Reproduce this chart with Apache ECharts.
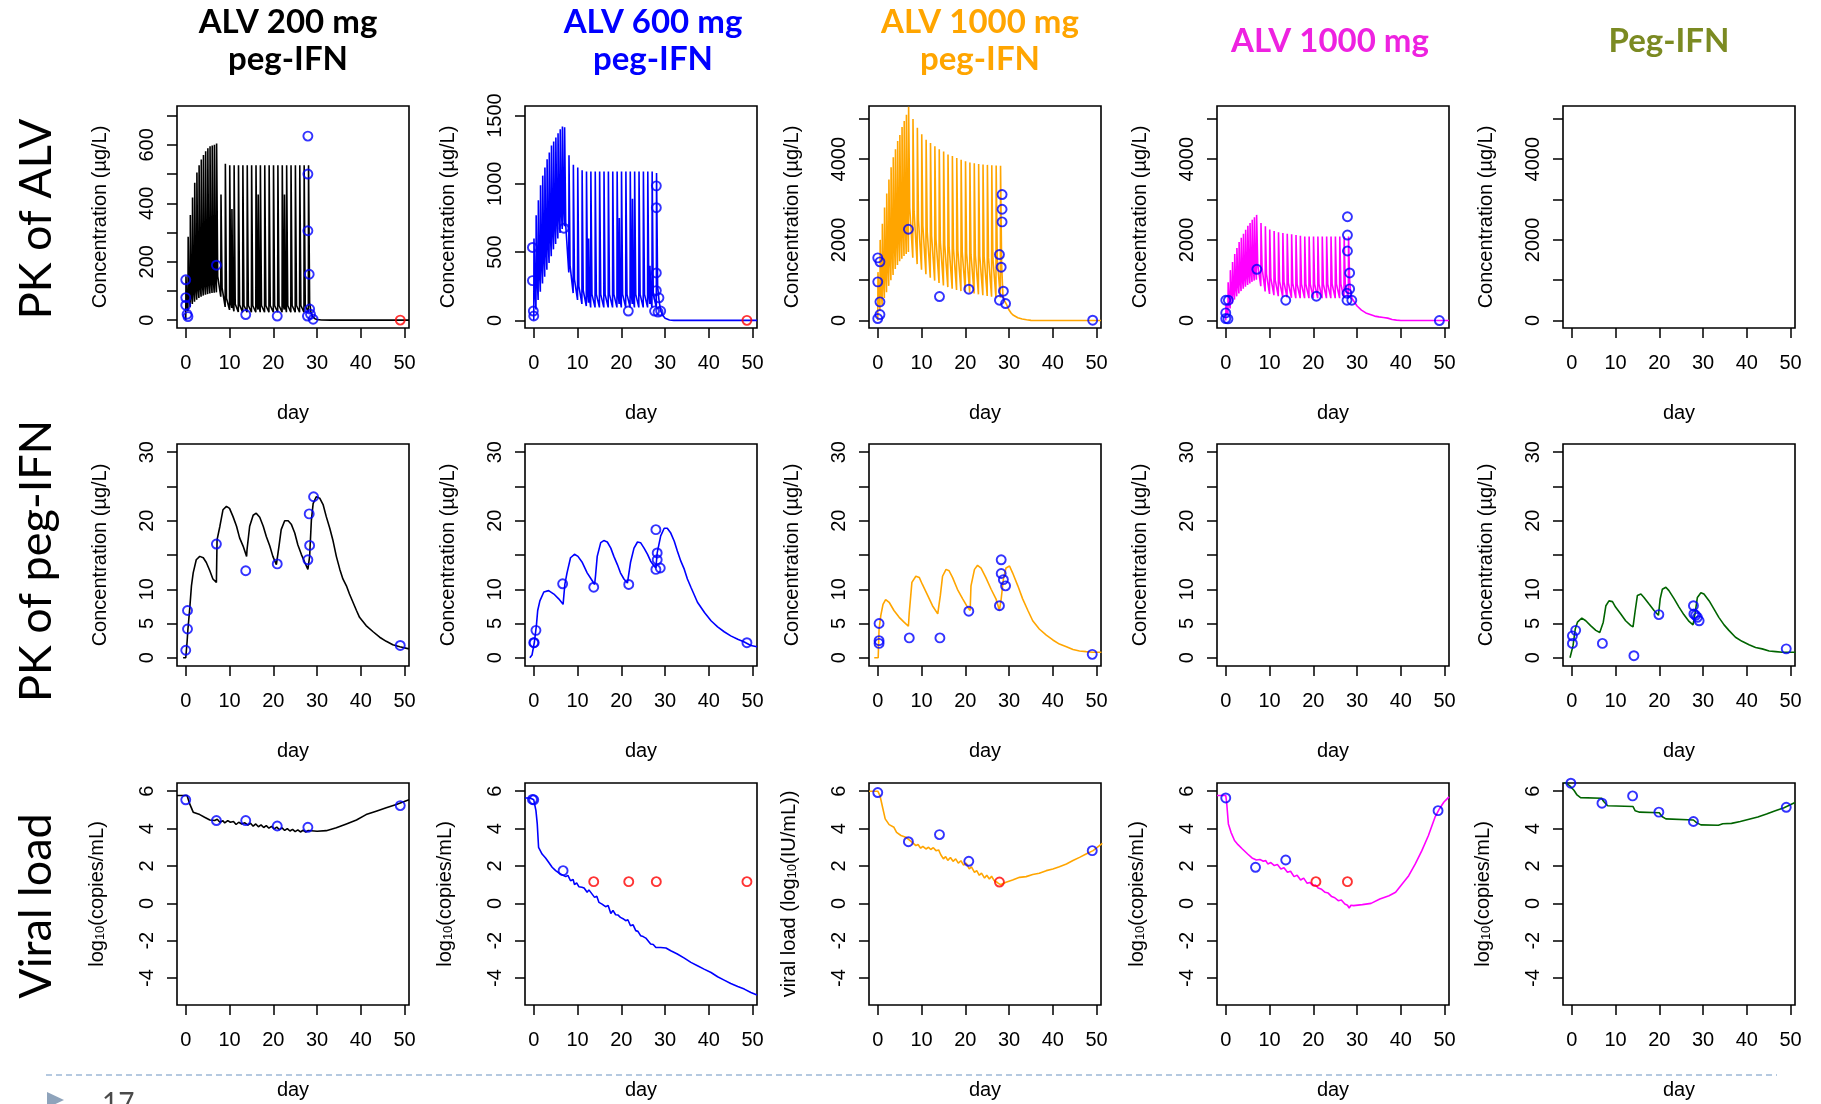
<!DOCTYPE html>
<html>
<head>
<meta charset="utf-8">
<script src="https://cdn.jsdelivr.net/npm/echarts@6/dist/echarts.min.js"></script>
<style>
html, body { margin: 0; padding: 0; background: #ffffff; }
#chart { width: 1821px; height: 1104px; }
</style>
</head>
<body>
<div id="chart"></div>
<script>
// ---------- labels ----------
const panelTitles = ['ALV 200 mg\npeg-IFN', 'ALV 600 mg\npeg-IFN', 'ALV 1000 mg\npeg-IFN', 'ALV 1000 mg', 'Peg-IFN'];
const rowLabels = ['PK of ALV', 'PK of peg-IFN', 'Viral load'];

// ---------- axis ticks ----------
const xTicks = [0, 10, 20, 30, 40, 50];
const alv200Ticks = [0, 100, 200, 300, 400, 500, 600, 700];
const alv200Labels = [0, 200, 400, 600];
const alv600Ticks = [0, 500, 1000, 1500];
const alv600Labels = [0, 500, 1000, 1500];
const alv1000Ticks = [0, 1000, 2000, 3000, 4000, 5000];
const alv1000Labels = [0, 2000, 4000];
const ifnTicks = [0, 5, 10, 15, 20, 25, 30];
const ifnLabels = [0, 5, 10, 20, 30];
const vlTicks = [-4, -2, 0, 2, 4, 6];
const vlLabels = [-4, -2, 0, 2, 4, 6];

// ---------- PK of ALV: model curves [day, µg/L] ----------
const pkAlv200Line = [
  [0,0],[0.05,150],[0.25,60],[0.5,30],[0.55,285],[0.75,85],[1,45],[1.05,360],[1.25,100],[1.5,55],
  [1.55,420],[1.75,110],[2,63],[2.05,470],[2.25,120],[2.5,70],[2.55,505],[2.75,125],[3,76],
  [3.05,530],[3.25,130],[3.5,80],[3.55,550],[3.75,135],[4,84],[4.05,565],[4.25,140],[4.5,87],
  [4.55,578],[4.75,142],[5,89],[5.05,588],[5.25,145],[5.5,91],[5.55,595],[5.75,147],[6,93],
  [6.05,598],[6.25,148],[6.5,94],[6.55,600],[6.75,150],[7,95],[7.05,605],[7.3,150],[8,80],
  [8.05,430],[8.3,110],[9,45],[9.05,535],[9.3,75],[10,35],[10.05,530],[10.3,60],[10.5,42],
  [10.55,380],[10.75,50],[11,30],[11.05,530],[11.3,55],[12,28],[12.05,530],[12.3,52],[13,27],
  [13.05,530],[13.3,50],[14,27],[14.05,530],[14.3,50],[15,27],[15.05,530],[15.3,50],[16,27],
  [16.05,530],[16.3,50],[16.5,36],[16.55,430],[16.75,48],[17,27],[17.05,530],[17.3,50],[18,27],
  [18.05,530],[18.3,50],[19,27],[19.05,530],[19.3,50],[20,27],[20.05,530],[20.3,50],[21,27],
  [21.05,530],[21.3,50],[22,27],[22.05,530],[22.3,50],[22.5,36],[22.55,430],[22.75,48],[23,27],
  [23.05,530],[23.3,50],[24,27],[24.05,530],[24.3,50],[25,27],[25.05,530],[25.3,50],[26,27],
  [26.05,530],[26.3,50],[27,27],[27.05,530],[27.3,50],[28,27],[28.05,530],[28.3,60],[28.6,28],
  [29,12],[29.5,5],[30,2],[31,0.5],[33,0],[51,0]
];
const pkAlv200Obs = [
  [0,138],[0,77],[0,51],[0.3,20],[0.5,12],[7,188],[13.7,19],[20.9,14],[27.9,630],[27.9,500],
  [27.9,306],[28.2,157],[28.3,38],[27.8,14],[28.5,20],[29.1,3]
];
const pkAlv200Blq = [[49,0]];

const pkAlv600Line = [
  [0,0],[0.05,600],[0.25,250],[0.5,80],[0.55,770],[0.75,330],[1,150],[1.05,880],[1.25,400],[1.5,210],
  [1.55,990],[1.75,460],[2,270],[2.05,1060],[2.25,520],[2.5,320],[2.55,1120],[2.75,570],[3,370],
  [3.05,1180],[3.25,620],[3.5,420],[3.55,1230],[3.75,670],[4,470],[4.05,1280],[4.25,710],[4.5,520],
  [4.55,1310],[4.75,750],[5,560],[5.05,1340],[5.25,790],[5.5,600],[5.55,1370],[5.75,820],[6,640],
  [6.05,1400],[6.25,850],[6.5,670],[6.55,1420],[6.75,870],[7,690],[7.05,1415],[7.3,700],[8,350],
  [8.05,1210],[8.3,400],[9,200],[9.05,1140],[9.3,300],[10,150],[10.05,1120],[10.3,250],[11,120],
  [11.05,1100],[11.3,220],[12,105],[12.05,1090],[12.3,200],[12.5,130],[12.55,600],[12.75,160],[13,95],
  [13.05,1090],[13.3,190],[14,95],[14.05,1090],[14.3,190],[15,95],[15.05,1090],[15.3,190],[16,95],
  [16.05,1090],[16.3,190],[17,95],[17.05,1090],[17.3,190],[18,95],[18.05,1090],[18.3,190],[19,95],
  [19.05,1090],[19.3,190],[19.5,120],[19.55,750],[19.75,150],[20,95],[20.05,1090],[20.3,190],[21,95],
  [21.05,1090],[21.3,190],[22,95],[22.05,1090],[22.3,190],[22.5,120],[22.55,890],[22.75,150],[23,95],
  [23.05,1090],[23.3,190],[24,95],[24.05,1090],[24.3,190],[25,95],[25.05,1090],[25.3,190],[26,95],
  [26.05,1090],[26.3,190],[26.5,120],[26.55,400],[26.75,150],[27,95],[27.05,1090],[27.3,190],[28,95],
  [28.05,1080],[28.3,250],[28.6,150],[29,70],[29.5,35],[30,15],[31,3],[32,0],[51,0]
];
const pkAlv600Obs = [
  [-0.3,534],[-0.3,291],[-0.1,68],[0,32],[6.9,675],[21.6,68],[28,985],[28,825],[28,347],[28,218],
  [28.6,165],[27.6,68],[29,68],[28.4,60]
];
const pkAlv600Blq = [[48.7,0]];

const pkAlv1000pLine = [
  [0,0],[0.05,1200],[0.25,600],[0.5,250],[0.55,2000],[0.75,900],[1,380],[1.05,2400],[1.25,1100],[1.5,560],
  [1.55,2800],[1.75,1350],[2,700],[2.05,3150],[2.25,1550],[2.5,860],[2.55,3500],[2.75,1750],[3,1000],
  [3.05,3800],[3.25,1950],[3.5,1130],[3.55,4050],[3.75,2100],[4,1280],[4.05,4250],[4.25,2250],[4.5,1380],
  [4.55,4450],[4.75,2350],[5,1470],[5.05,4600],[5.25,2450],[5.5,1530],[5.55,4800],[5.75,2550],[6,1600],
  [6.05,4950],[6.25,2650],[6.5,1650],[6.55,5100],[6.75,2700],[7,1700],[7.05,5300],[7.3,2800],[8,1560],
  [8.05,5000],[8.3,2700],[9,1400],[9.05,4780],[9.3,2500],[10,1260],[10.05,4620],[10.3,2350],[11,1150],
  [11.05,4480],[11.3,2200],[12,1060],[12.05,4400],[12.3,2100],[13,990],[13.05,4320],[13.3,2020],[14,930],
  [14.05,4250],[14.3,1950],[15,870],[15.05,4190],[15.3,1880],[16,830],[16.05,4120],[16.3,1820],[17,790],
  [17.05,4080],[17.3,1780],[18,760],[18.05,4030],[18.3,1740],[19,730],[19.05,3990],[19.3,1700],[20,710],
  [20.05,3950],[20.3,1670],[21,690],[21.05,3920],[21.3,1640],[22,670],[22.05,3900],[22.3,1620],[23,650],
  [23.05,3880],[23.3,1600],[24,630],[24.05,3870],[24.3,1580],[25,610],[25.05,3860],[25.3,1560],[26,590],
  [26.05,3850],[26.3,1540],[27,575],[27.05,3845],[27.3,1530],[28,565],[28.05,3840],[28.3,1400],[28.6,600],
  [29,480],[29.5,380],[30,260],[30.5,180],[31,130],[32,70],[33,40],[34,20],[35,5],[36,0],[51,0]
];
const pkAlv1000pObs = [
  [0,1554],[0.5,1455],[0,959],[0.5,463],[0.5,149],[0,50],[7,2264],[14.1,595],[20.8,777],[28.4,3124],
  [28.4,2760],[28.4,2446],[27.8,1636],[28.2,1322],[28.7,727],[27.8,504],[29.2,421],[49.1,8]
];

const pkAlv1000Line = [
  [0,0],[0.05,400],[0.25,250],[0.5,150],[0.55,950],[0.75,500],[1,300],[1.05,1250],[1.25,680],[1.5,420],
  [1.55,1450],[1.75,800],[2,520],[2.05,1650],[2.25,900],[2.5,600],[2.55,1800],[2.75,980],[3,670],
  [3.05,1950],[3.25,1050],[3.5,730],[3.55,2050],[3.75,1110],[4,790],[4.05,2150],[4.25,1170],[4.5,840],
  [4.55,2250],[4.75,1220],[5,880],[5.05,2350],[5.25,1260],[5.5,920],[5.55,2420],[5.75,1300],[6,960],
  [6.05,2500],[6.25,1340],[6.5,990],[6.55,2560],[6.75,1370],[7,1010],[7.05,2620],[7.3,1400],[8,850],
  [8.05,2420],[8.3,1300],[9,720],[9.05,2340],[9.3,1150],[10,660],[10.05,2260],[10.3,1050],[11,630],
  [11.05,2220],[11.3,1000],[12,605],[12.05,2190],[12.3,970],[13,590],[13.05,2170],[13.3,950],[14,575],
  [14.05,2150],[14.3,930],[15,565],[15.05,2140],[15.3,920],[16,555],[16.05,2120],[16.3,900],[17,555],
  [17.05,2100],[17.3,900],[18,555],[18.05,2085],[18.3,900],[19,555],[19.05,2085],[19.3,900],[20,555],
  [20.05,2085],[20.3,900],[21,555],[21.05,2085],[21.3,900],[22,555],[22.05,2085],[22.3,900],[23,555],
  [23.05,2085],[23.3,900],[24,555],[24.05,2085],[24.3,900],[25,555],[25.05,2085],[25.3,900],[26,555],
  [26.05,2085],[26.3,900],[27,555],[27.05,2085],[27.3,900],[28,555],[28.05,2085],[28.3,1000],[28.6,620],
  [29,520],[29.5,440],[30,360],[31,260],[32,190],[33,150],[34,110],[35,90],[36,75],[37,60],[38,25],
  [39,10],[40,2],[41,0],[51,0]
];
const pkAlv1000Obs = [
  [0,503],[0.6,503],[0,190],[0,50],[0.5,41],[7.1,1271],[13.7,503],[20.7,602],[27.8,2574],[27.8,2120],
  [27.8,1724],[28.3,1180],[28.3,784],[27.7,677],[27.7,503],[28.8,503],[48.8,0]
];

// ---------- PK of peg-IFN: model curves [day, µg/L] ----------
const ifn200Line = [
  [-0.6,0],[0,0],[0.3,2.3],[0.5,4.2],[0.9,7.1],[1.3,10.5],[1.7,12.4],[2.4,14.3],[3.2,14.8],[4,14.6],
  [4.7,13.9],[5.5,12.7],[6.2,11.5],[7,11],[7.15,17.2],[7.8,19.2],[8.5,21.6],[9.3,22.1],[10,21.8],
  [10.8,20.6],[11.6,19.2],[12.3,17.5],[13.1,16.3],[13.9,14.8],[14,15.8],[14.6,19.2],[15.4,20.8],
  [16.1,21.1],[16.9,20.5],[17.7,19.2],[18.4,17.7],[19.2,16.3],[19.9,14.8],[20.7,13.6],[21.1,13.6],
  [21.3,16.3],[21.8,18.7],[22.6,20],[23.4,20],[24.1,19.5],[24.9,18.2],[25.6,16.5],[26.4,15.1],
  [27.2,13.9],[27.9,12.9],[28.3,14.8],[28.7,20.1],[29.1,22.5],[29.8,23.5],[30.6,23.3],[31.4,22.3],
  [32.1,20.6],[32.9,18.9],[33.6,17.2],[34.4,14.8],[35.2,12.9],[35.9,11.5],[36.7,10.5],[37.4,9.3],
  [38.2,8.1],[39,6.9],[39.7,5.9],[41.2,4.7],[42.8,3.8],[44.3,3],[45.8,2.4],[47.3,1.9],[48.9,1.6],[51,1.3]
];
const ifn200Obs = [
  [0,1.1],[0.4,4.2],[0.4,6.9],[7,16.6],[13.7,12.7],[20.9,13.7],[27.9,14.3],[28.3,16.4],[28.2,21],
  [29.2,23.5],[49,1.8]
];

const ifn600Line = [
  [-0.9,0],[-0.4,0.4],[0.15,2.3],[0.6,4.7],[0.9,6.9],[1.4,8.3],[2.3,9.6],[3.4,9.8],[4.6,9.3],[5.7,8.6],
  [6.7,7.8],[7.1,10.7],[7.6,12.4],[8.4,14.6],[9.3,15.1],[10.1,14.8],[11.1,13.9],[12.2,12.4],[13.4,11.2],
  [13.9,10.7],[14.1,11.9],[14.5,14.8],[15.3,16.8],[16,17.1],[16.8,16.9],[17.6,16],[18.3,14.8],[19.1,13.6],
  [19.8,12.4],[20.6,11.5],[21.4,10.9],[21.8,10.9],[22.1,13.9],[22.9,16],[23.7,16.9],[24.4,16.8],[25.2,16],
  [26,15.1],[26.7,14.1],[27.5,13.4],[27.9,13.1],[28.2,15.3],[29,17.8],[29.8,18.9],[30.5,18.9],[31.3,18.2],
  [32.1,17],[32.8,15.6],[33.6,14.1],[34.4,12.9],[35.1,11.5],[35.9,10.3],[37.4,8.1],[39,6.6],[40.5,5.4],
  [42,4.5],[43.5,3.8],[45,3.2],[46.6,2.7],[48.1,2.3],[49.6,1.8],[51,1.6]
];
const ifn600Obs = [
  [0,2.2],[0.1,2.2],[0.5,4],[6.6,10.8],[13.7,10.3],[21.7,10.7],[27.9,18.7],[28.2,15.3],[28.2,14.3],
  [27.9,12.9],[28.9,13.1],[48.7,2.2]
];

const ifn1000pLine = [
  [-0.8,0],[0.1,0],[0.3,4.2],[0.7,6.2],[1.2,7.8],[1.8,8.5],[2.6,8.1],[3.7,6.9],[4.9,5.9],[6,5.2],
  [7,4.6],[7.2,6.6],[7.8,11],[8.7,11.9],[9.5,11.7],[10.2,10.7],[11.4,9.1],[12.5,7.6],[13.7,6.4],[14,6.2],
  [14.3,9.1],[14.8,11.9],[15.6,12.9],[16.3,12.7],[17.1,11.7],[18.2,10],[19.4,8.6],[20.5,7.4],[21.1,6.9],
  [21.3,10.5],[22.1,12.9],[22.8,13.5],[23.6,13.1],[24.7,11.7],[25.9,10],[27,8.6],[27.8,6.9],[28.2,8.6],
  [28.7,11.5],[29.3,13.1],[30.1,13.4],[30.8,12.4],[32,10.5],[33.1,8.6],[34.3,6.9],[35.4,5.4],[36.9,4.2],
  [38.5,3.3],[40,2.6],[41.5,2],[43.1,1.6],[44.6,1.2],[46.1,1],[47.6,0.9],[49.2,0.8],[51.1,0.8]
];
const ifn1000pObs = [
  [0.3,5],[0.3,2.5],[0.3,2.1],[7.2,2.9],[14.2,2.9],[20.8,6.8],[27.8,7.6],[28.2,14.3],[28.2,12.3],
  [28.7,11.4],[29.2,10.5],[49,0.5]
];

const ifnOnlyLine = [
  [-0.4,0],[0,0.1],[0.3,1.8],[0.8,4.2],[1.3,5.2],[2.3,5.8],[3.2,5.4],[4.3,4.7],[5.5,4],[6.4,3.7],
  [6.8,3.7],[7.2,5.2],[7.8,7.6],[8.5,8.3],[9.3,8.2],[10,7.4],[11.2,6.4],[12.3,5.4],[13.5,4.7],[14,4.5],
  [14.5,6.9],[15,9.1],[15.8,9.3],[16.5,8.8],[17.7,7.8],[18.8,6.9],[19.8,6.2],[20.2,8.6],[20.7,10],
  [21.5,10.3],[22.2,9.8],[23.4,8.6],[24.5,7.4],[25.6,6.3],[26.8,5.3],[27.7,4.8],[28.2,6.6],[28.7,8.8],
  [29.5,9.5],[30.2,9.3],[31.4,8.3],[32.5,7.1],[33.6,5.9],[34.8,4.8],[35.9,4],[37.4,3],[38.9,2.4],
  [40.5,1.9],[42,1.5],[43.5,1.3],[45.1,1],[46.6,0.9],[48.1,0.8],[51.1,0.8]
];
const ifnOnlyObs = [
  [0.15,3.2],[0.15,2.1],[0.9,4],[7,2.1],[14.2,0.3],[19.9,6.3],[27.8,7.6],[27.9,6.4],[28.3,6.2],
  [28.7,5.9],[29.1,5.4],[49,1.3]
];

// ---------- Viral load: model curves [day, log10] ----------
const vl200Line = [
  [-2,5.77],[0.3,5.77],[0.9,5.32],[1.7,4.88],[2.1,4.79],[3.2,4.75],[3.6,4.8],[4.3,4.61],[5.5,4.46],
  [6.6,4.43],[7.2,4.5],[7.8,4.34],[8.5,4.42],[8.9,4.3],[9.6,4.43],[10.2,4.34],[10.9,4.38],[11.5,4.22],
  [12.1,4.34],[12.8,4.25],[13.5,4.31],[14.2,4.18],[14.8,4.29],[15.4,4.13],[16,4.25],[16.6,4.1],
  [17.2,4.2],[17.8,4.06],[18.4,4.16],[19,4.02],[19.6,4.12],[20.2,3.98],[20.8,4.08],[21.4,3.94],
  [22,4.04],[22.6,3.9],[23.2,4],[23.8,3.87],[24.4,3.96],[25,3.84],[25.6,3.93],[26.2,3.82],[26.8,3.91],
  [27.4,3.82],[28,3.9],[28.4,3.84],[30,3.86],[32.1,3.89],[34.4,4.04],[36.7,4.25],[39,4.46],[41.2,4.75],
  [43.5,4.93],[45.8,5.11],[48.1,5.29],[51,5.54]
];
const vl200Obs = [[0,5.54],[7,4.43],[13.7,4.43],[20.9,4.14],[27.9,4.07],[49,5.23]];

const vl600Line = [
  [-2,5.64],[-0.8,5.64],[0,5.54],[0.5,4.96],[0.8,4.25],[1.1,3],[1.9,2.64],[2.7,2.43],[3.4,2.2],[4.2,1.93],
  [5,1.75],[6.1,1.57],[7.3,1.43],[7.8,1.5],[8.4,1.21],[9,1.28],[9.3,1],[9.8,1.1],[10.3,0.89],[11,0.86],
  [11.5,0.82],[12.2,0.59],[12.6,0.72],[13,0.64],[13.9,0.32],[14.4,0.38],[14.9,0.05],[15.3,0.12],
  [15.6,-0.04],[16,0.02],[16.4,-0.18],[17,-0.12],[17.6,-0.54],[18.1,-0.38],[18.7,-0.61],[19.2,-0.62],
  [19.8,-0.75],[20.4,-0.82],[21,-0.93],[21.5,-0.88],[22.1,-1.2],[22.7,-1.15],[23.3,-1.46],[23.8,-1.5],
  [24.4,-1.73],[25,-1.78],[25.6,-1.86],[26,-1.82],[26.7,-2.18],[27.3,-2.2],[27.9,-2.36],[28.2,-2.42],
  [29,-2.36],[30.2,-2.39],[31.3,-2.54],[32.8,-2.71],[34.4,-2.93],[35.9,-3.16],[37.4,-3.34],[38.9,-3.52],
  [40.5,-3.7],[42,-3.93],[43.5,-4.11],[45,-4.29],[46.6,-4.45],[48.1,-4.59],[49.6,-4.77],[51,-4.9]
];
const vl600Obs = [[-0.3,5.56],[0,5.54],[6.7,1.75]];
const vl600Blq = [[13.7,1.16],[21.7,1.16],[28,1.16],[48.7,1.16]];

const vl1000pLine = [
  [-2,6],[0,6],[0.5,5.77],[1.1,5.14],[1.7,4.52],[2.6,4.21],[3.7,4.07],[4.3,3.8],[5.3,3.63],[6.4,3.54],
  [7.6,3.32],[8.2,3.2],[8.7,3.09],[9.2,3.15],[9.8,2.95],[10.3,3.05],[11,2.91],[11.6,3],[12.1,2.88],
  [12.7,2.98],[13.3,2.82],[13.9,2.86],[14.4,2.6],[15,2.38],[15.5,2.5],[16,2.3],[16.6,2.45],[17.2,2.25],
  [17.8,2.38],[18.4,2.15],[19,2.28],[19.6,2.05],[20.2,2.15],[20.9,1.84],[21.4,1.95],[22.1,1.66],
  [22.6,1.75],[23.2,1.5],[23.7,1.62],[24.4,1.35],[24.9,1.5],[25.5,1.3],[26,1.45],[26.6,1.22],[27,1.3],
  [27.4,1.1],[28,1],[28.2,0.98],[29.3,1.13],[30.8,1.25],[32.4,1.39],[33.9,1.43],[35.4,1.54],[36.9,1.61],
  [38.5,1.75],[40,1.84],[41.5,1.96],[43.1,2.11],[44.6,2.29],[46.1,2.46],[47.6,2.64],[49.2,2.82],[51.3,3.21]
];
const vl1000pObs = [[0,5.93],[7,3.3],[14.1,3.68],[20.8,2.25],[49,2.82]];
const vl1000pBlq = [[27.8,1.14]];

const vl1000Line = [
  [-2,5.77],[0,5.77],[0.2,5.41],[0.6,4.25],[1.2,3.8],[2,3.36],[2.8,3.14],[3.8,2.91],[5,2.64],[6,2.43],
  [7,2.32],[7.8,2.35],[8.6,2.25],[9.1,2.3],[9.6,2.11],[10.3,2.18],[11.1,2.02],[11.8,2.08],[12.6,1.84],
  [13.3,1.9],[14.1,1.66],[14.8,1.72],[15.6,1.43],[16.3,1.5],[17.1,1.25],[17.8,1.35],[18.6,1.07],
  [19.2,1.12],[19.9,0.95],[20.5,0.98],[21.1,0.82],[21.9,0.75],[22.7,0.59],[23.4,0.55],[24.2,0.36],
  [24.9,0.3],[25.7,0.14],[26.4,0.18],[27.2,-0.04],[27.8,-0.1],[28.2,-0.25],[28.6,-0.1],[29.2,-0.12],
  [31.2,-0.07],[33.2,0],[35.2,0.23],[37.3,0.41],[38.8,0.59],[40.3,1.04],[41.8,1.48],[43.3,2.11],
  [44.8,2.82],[46.3,3.63],[47.8,4.61],[48.8,5.05],[49.8,5.41],[51,5.7]
];
const vl1000Obs = [[0,5.64],[6.8,1.93],[13.7,2.32],[48.5,4.96]];
const vl1000Blq = [[20.6,1.16],[27.8,1.16]];

const vlIfnLine = [
  [-2,6.55],[-0.5,6.3],[0.5,6.05],[1.2,5.8],[2,5.66],[6.8,5.62],[7.3,5.45],[8.2,5.22],[14,5.18],
  [14.5,4.95],[15.5,4.88],[20,4.85],[20.6,4.65],[21.5,4.52],[27.8,4.46],[28.5,4.32],[29.5,4.2],
  [33.5,4.18],[34.5,4.26],[36.5,4.28],[38.5,4.38],[40.5,4.5],[42.5,4.62],[44.5,4.78],[46.5,4.95],
  [48.5,5.12],[51,5.4]
];
const vlIfnObs = [[-0.2,6.43],[6.9,5.36],[13.9,5.75],[19.9,4.88],[27.8,4.38],[49,5.14]];

// ---------- styling ----------
const armColors = ['#000000', '#0000ff', '#ffa500', '#ff00ff', '#006400'];
const titleColors = ['#000000', '#0000ff', '#ffa500', '#ee22e0', '#7b8a22'];
const obsColor = '#0000ff';
const blqColor = '#ff0000';
const axisFont = 'Liberation Sans';

const gridLeft = [177, 525, 869, 1217, 1563];
const gridTop = [106, 444, 783];
const gridW = 232, gridH = 222;
const xRange = [-2, 51];

const concName = 'Concentration (µg/L)';
const vlName = '{a|log}{s|10}{a|(copies/mL)}';
const vlNameIU = '{a|viral load (log}{s|10}{a|(IU/mL))}';
const yNameGap = [67, 67, 70];

// one entry per panel: row, column, y range, ticks and what is plotted
const panels = [
  { r: 0, c: 0, y: [-27, 733], ticks: alv200Ticks, labels: alv200Labels, name: concName, line: pkAlv200Line, obs: pkAlv200Obs, blq: pkAlv200Blq },
  { r: 0, c: 1, y: [-56, 1570], ticks: alv600Ticks, labels: alv600Labels, name: concName, line: pkAlv600Line, obs: pkAlv600Obs, blq: pkAlv600Blq },
  { r: 0, c: 2, y: [-185, 5320], ticks: alv1000Ticks, labels: alv1000Labels, name: concName, line: pkAlv1000pLine, obs: pkAlv1000pObs },
  { r: 0, c: 3, y: [-185, 5320], ticks: alv1000Ticks, labels: alv1000Labels, name: concName, line: pkAlv1000Line, obs: pkAlv1000Obs },
  { r: 0, c: 4, y: [-185, 5320], ticks: alv1000Ticks, labels: alv1000Labels, name: concName },
  { r: 1, c: 0, y: [-1.2, 31.2], ticks: ifnTicks, labels: ifnLabels, name: concName, line: ifn200Line, obs: ifn200Obs },
  { r: 1, c: 1, y: [-1.2, 31.2], ticks: ifnTicks, labels: ifnLabels, name: concName, line: ifn600Line, obs: ifn600Obs },
  { r: 1, c: 2, y: [-1.2, 31.2], ticks: ifnTicks, labels: ifnLabels, name: concName, line: ifn1000pLine, obs: ifn1000pObs },
  { r: 1, c: 3, y: [-1.2, 31.2], ticks: ifnTicks, labels: ifnLabels, name: concName },
  { r: 1, c: 4, y: [-1.2, 31.2], ticks: ifnTicks, labels: ifnLabels, name: concName, line: ifnOnlyLine, obs: ifnOnlyObs },
  { r: 2, c: 0, y: [-5.44, 6.44], ticks: vlTicks, labels: vlLabels, name: vlName, line: vl200Line, obs: vl200Obs },
  { r: 2, c: 1, y: [-5.44, 6.44], ticks: vlTicks, labels: vlLabels, name: vlName, line: vl600Line, obs: vl600Obs, blq: vl600Blq },
  { r: 2, c: 2, y: [-5.44, 6.44], ticks: vlTicks, labels: vlLabels, name: vlNameIU, line: vl1000pLine, obs: vl1000pObs, blq: vl1000pBlq },
  { r: 2, c: 3, y: [-5.44, 6.44], ticks: vlTicks, labels: vlLabels, name: vlName, line: vl1000Line, obs: vl1000Obs, blq: vl1000Blq },
  { r: 2, c: 4, y: [-5.44, 6.44], ticks: vlTicks, labels: vlLabels, name: vlName, line: vlIfnLine, obs: vlIfnObs }
];

const grids = [], xAxes = [], yAxes = [], series = [];
const tickStyle = { color: '#000', width: 1.5 };
const nameRich = {
  a: { fontSize: 20, fontFamily: axisFont, color: '#000', lineHeight: 24, verticalAlign: 'bottom' },
  s: { fontSize: 13, fontFamily: axisFont, color: '#000', lineHeight: 13, verticalAlign: 'bottom' }
};

panels.forEach((p, i) => {
  grids.push({
    left: gridLeft[p.c], top: gridTop[p.r], width: gridW, height: gridH,
    show: true, borderColor: '#000', borderWidth: 1.6, backgroundColor: 'transparent'
  });
  xAxes.push({
    gridIndex: i, type: 'value', position: 'bottom', min: xRange[0], max: xRange[1],
    axisLine: { show: false, onZero: false },
    axisTick: { show: true, length: 10, lineStyle: tickStyle, customValues: xTicks },
    axisLabel: { customValues: xTicks, fontSize: 20, fontFamily: axisFont, color: '#000', margin: 25, formatter: v => String(v) },
    splitLine: { show: false },
    name: 'day', nameLocation: 'middle', nameGap: 75,
    nameTextStyle: { fontSize: 20, fontFamily: axisFont, color: '#000' }
  });
  yAxes.push({
    gridIndex: i, type: 'value', position: 'left', min: p.y[0], max: p.y[1],
    axisLine: { show: false, onZero: false },
    axisTick: { show: true, length: 10, lineStyle: tickStyle, customValues: p.ticks },
    axisLabel: { customValues: p.labels, rotate: 90, fontSize: 20, fontFamily: axisFont, color: '#000', margin: 20, formatter: v => String(v) },
    splitLine: { show: false },
    name: p.name, nameLocation: 'middle', nameGap: yNameGap[p.r],
    nameTextStyle: { fontSize: 20, fontFamily: axisFont, color: '#000', rich: nameRich }
  });
  if (p.line) {
    series.push({
      type: 'line', xAxisIndex: i, yAxisIndex: i, data: p.line, symbol: 'none', showSymbol: false,
      lineStyle: { color: armColors[p.c], width: 1.6 }, clip: true, silent: true, z: 2
    });
  }
  [[p.obs, obsColor], [p.blq, blqColor]].forEach(([pts, col]) => {
    if (!pts) return;
    series.push({
      type: 'scatter', xAxisIndex: i, yAxisIndex: i, data: pts, symbol: 'circle', symbolSize: 9,
      itemStyle: { color: 'transparent', borderColor: col, borderWidth: 1.9 }, clip: true, silent: true, z: 3
    });
  });
});

// column headers, row headers and page furniture
const titleX = [288, 653, 980, 1330, 1669];
const graphics = [];
panelTitles.forEach((t, c) => {
  graphics.push({
    type: 'text', x: titleX[c], y: 41, silent: true,
    style: { text: t, fill: titleColors[c], fontSize: 33, fontWeight: 'bold', fontFamily: 'Lato',
             align: 'center', verticalAlign: 'middle', lineHeight: 37 }
  });
});
const rowLabelY = [219, 561, 906];
rowLabels.forEach((t, r) => {
  graphics.push({
    type: 'text', x: 36, y: rowLabelY[r], rotation: Math.PI / 2, silent: true,
    style: { text: t, fill: '#000', fontSize: 45, fontFamily: 'Lato', align: 'center', verticalAlign: 'middle' }
  });
});
graphics.push({
  type: 'line', silent: true,
  shape: { x1: 46, y1: 1075, x2: 1777, y2: 1075 },
  style: { stroke: '#9db8d6', lineWidth: 1.5, lineDash: [6, 4] }
});
graphics.push({
  type: 'polygon', silent: true,
  shape: { points: [[47, 1092], [64, 1100], [47, 1108]] },
  style: { fill: '#8ea3bb' }
});
graphics.push({
  type: 'text', x: 102, y: 1090, silent: true,
  style: { text: '17', fill: '#4a4a4a', fontSize: 28, fontFamily: 'Lato', align: 'left', verticalAlign: 'top' }
});

const chart = echarts.init(document.getElementById('chart'), null, { renderer: 'canvas' });
chart.setOption({
  animation: false,
  backgroundColor: '#ffffff',
  grid: grids,
  xAxis: xAxes,
  yAxis: yAxes,
  series: series,
  graphic: graphics
});
</script>
</body>
</html>
